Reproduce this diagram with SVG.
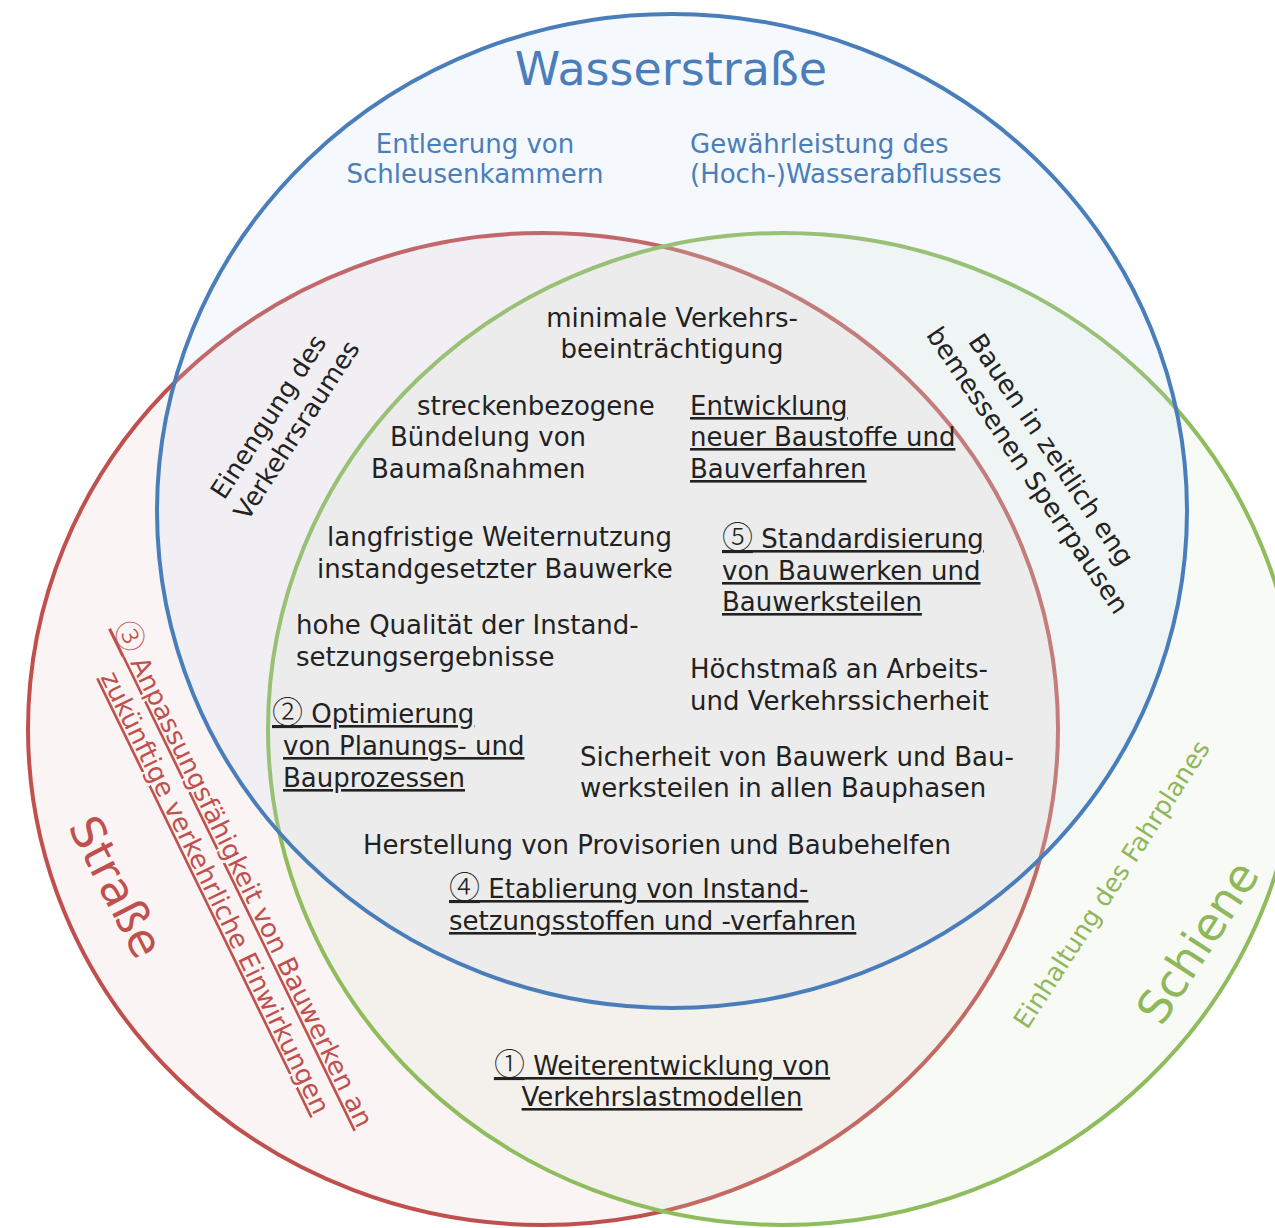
<svg xmlns="http://www.w3.org/2000/svg" width="1275" height="1228" viewBox="0 0 1275 1228">
  <style>
    text { font-family: 'DejaVu Sans', 'Noto Sans CJK JP', sans-serif; font-size: 26px; }
    .body { fill: #222; }
    .ul { text-decoration: underline; }
    .mid { text-anchor: middle; }
    .num { font-family: 'Noto Sans CJK JP', 'DejaVu Sans', sans-serif; font-weight: 300; font-size: 31px; }
    .blueT { fill: #4a7ebb; }
    .redT { fill: #c0504d; }
    .greenT { fill: #8fb85a; }
    .big { font-size: 46px; }
    .set { stroke-width: 4; fill-opacity: 0.18; }
  </style>

  <!-- three overlapping sets: light tinted fills, drawn red, green, blue -->
  <g id="set-strasse">
    <ellipse class="set" cx="543" cy="729" rx="515" ry="496" fill="#e1c3c3" stroke="#c0504d"/>
  </g>
  <g id="set-schiene">
    <ellipse class="set" cx="783" cy="729" rx="515" ry="496" fill="#d7e6cd" stroke="#8fbc5c"/>
  </g>
  <g id="set-wasserstrasse">
    <ellipse class="set" cx="672" cy="511" rx="515" ry="497" fill="#c6d9ec" stroke="#4a7ebb"/>
  </g>

  <!-- set titles -->
  <g id="title-wasserstrasse">
    <text class="blueT big mid" x="671" y="85">Wasserstraße</text>
  </g>
  <g id="title-strasse">
    <text class="redT big mid" transform="translate(102,894) rotate(63)">Straße</text>
  </g>
  <g id="title-schiene">
    <text class="greenT big mid" transform="translate(1211,951) rotate(-57)">Schiene</text>
  </g>

  <!-- Wasserstraße only -->
  <g id="entleerung">
    <text class="blueT mid" x="475" y="153">Entleerung von</text>
    <text class="blueT mid" x="475" y="183">Schleusenkammern</text>
  </g>
  <g id="wasserabfluss">
    <text class="blueT" x="690" y="153">Gewährleistung des</text>
    <text class="blueT" x="690" y="183">(Hoch-)Wasserabflusses</text>
  </g>

  <!-- pairwise overlaps -->
  <g id="einengung">
    <text class="body mid" style="font-size:25.5px" transform="translate(278,418) rotate(-57)">
      <tspan x="0" y="0">Einengung des</tspan>
      <tspan x="0" y="31">Verkehrsraumes</tspan>
    </text>
  </g>
  <g id="sperrpausen">
    <text class="body mid" transform="translate(1046,458) rotate(56)">
      <tspan x="0" y="0">Bauen in zeitlich eng</tspan>
      <tspan x="0" y="31">bemessenen Sperrpausen</tspan>
    </text>
  </g>
  <g id="fahrplan">
    <text class="greenT mid" style="font-size:25.5px" transform="translate(1119,889) rotate(-57)">Einhaltung des Fahrplanes</text>
  </g>
  <g id="anpassung">
    <text class="redT mid" transform="translate(237,882) rotate(64)">
      <tspan class="ul" x="0" y="0"><tspan class="num">③</tspan> Anpassungsfähigkeit von Bauwerken an</tspan>
      <tspan class="ul" x="0" y="33">zukünftige verkehrliche Einwirkungen</tspan>
    </text>
  </g>
  <g id="verkehrslast">
    <text class="body ul mid" x="662" y="1075"><tspan class="num">①</tspan> Weiterentwicklung von</text>
    <text class="body ul mid" x="662" y="1106">Verkehrslastmodellen</text>
  </g>

  <!-- common core -->
  <g id="verkehrsbeeintraechtigung">
    <text class="body mid" x="672" y="327">minimale Verkehrs-</text>
    <text class="body mid" x="672" y="358">beeinträchtigung</text>
  </g>
  <g id="buendelung">
    <text class="body" x="417" y="415">streckenbezogene</text>
    <text class="body" x="390" y="446">Bündelung von</text>
    <text class="body" x="371" y="478">Baumaßnahmen</text>
  </g>
  <g id="baustoffe">
    <text class="body ul" x="690" y="415">Entwicklung</text>
    <text class="body ul" x="690" y="446">neuer Baustoffe und</text>
    <text class="body ul" x="690" y="478">Bauverfahren</text>
  </g>
  <g id="weiternutzung">
    <text class="body" x="327" y="546">langfristige Weiternutzung</text>
    <text class="body" x="317" y="578">instandgesetzter Bauwerke</text>
  </g>
  <g id="standardisierung">
    <text class="body ul" x="722" y="548"><tspan class="num">⑤</tspan> Standardisierung</text>
    <text class="body ul" x="722" y="580">von Bauwerken und</text>
    <text class="body ul" x="722" y="611">Bauwerksteilen</text>
  </g>
  <g id="qualitaet">
    <text class="body" x="296" y="634">hohe Qualität der Instand-</text>
    <text class="body" x="296" y="666">setzungsergebnisse</text>
  </g>
  <g id="sicherheit-arbeit">
    <text class="body" x="690" y="678">Höchstmaß an Arbeits-</text>
    <text class="body" x="690" y="710">und Verkehrssicherheit</text>
  </g>
  <g id="optimierung">
    <text class="body ul" x="272" y="723"><tspan class="num">②</tspan> Optimierung</text>
    <text class="body ul" x="283" y="755">von Planungs- und</text>
    <text class="body ul" x="283" y="787">Bauprozessen</text>
  </g>
  <g id="sicherheit-bauwerk">
    <text class="body" x="580" y="766">Sicherheit von Bauwerk und Bau-</text>
    <text class="body" x="580" y="797">werksteilen in allen Bauphasen</text>
  </g>
  <g id="provisorien">
    <text class="body mid" x="657" y="854">Herstellung von Provisorien und Baubehelfen</text>
  </g>
  <g id="etablierung">
    <text class="body ul" x="449" y="898"><tspan class="num">④</tspan> Etablierung von Instand-</text>
    <text class="body ul" x="449" y="930">setzungsstoffen und -verfahren</text>
  </g>
</svg>
